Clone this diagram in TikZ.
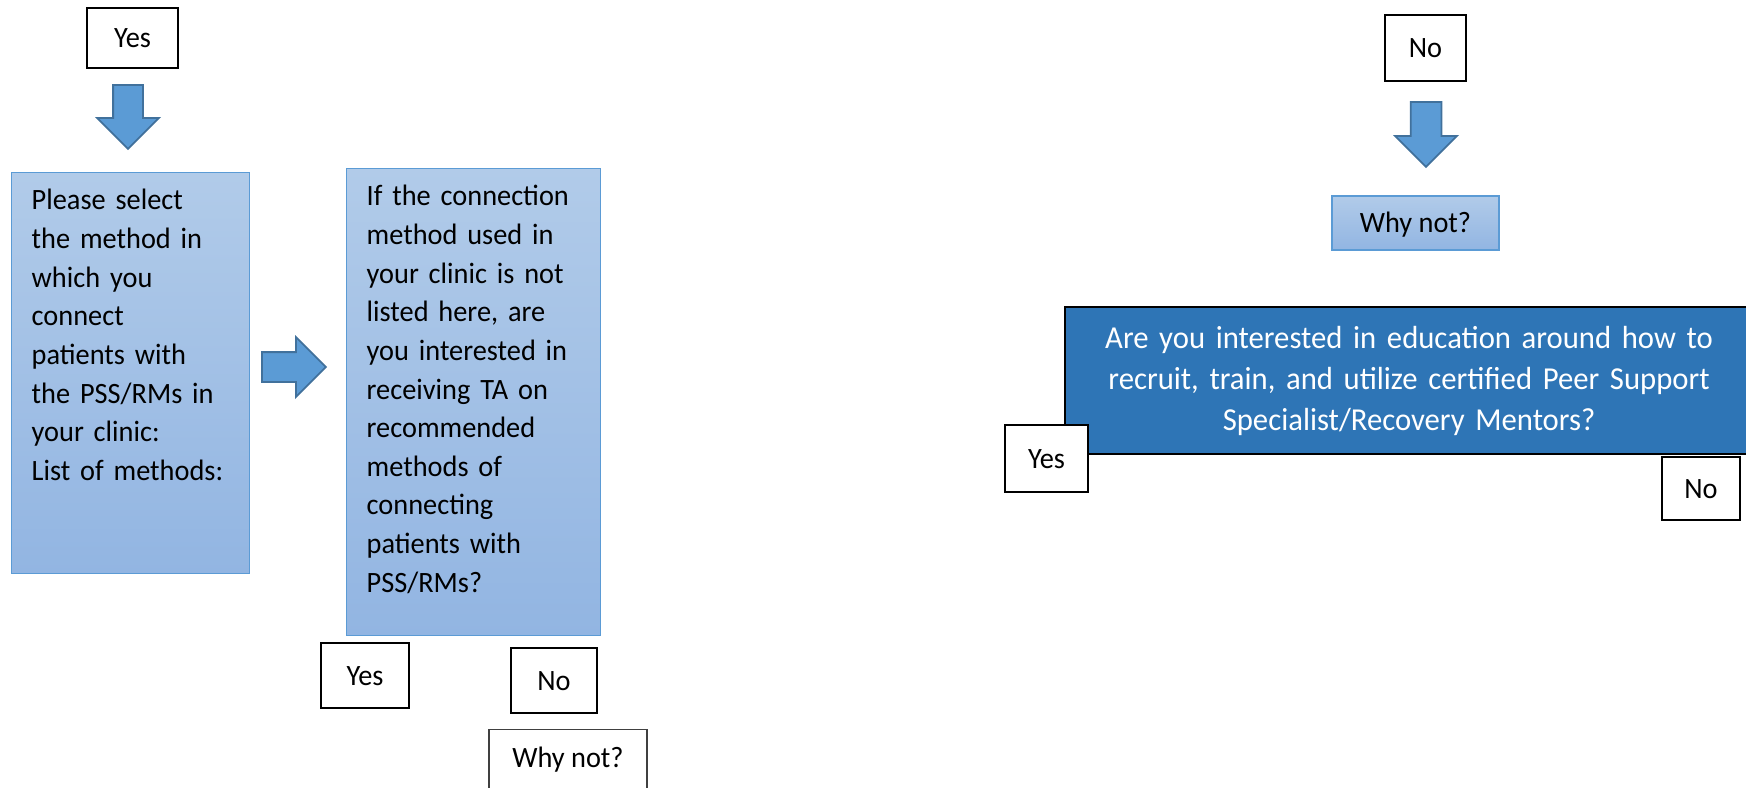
\documentclass[tikz,border=0pt]{standalone}
\usepackage{fontspec}
\setmainfont{Carlito}[FakeStretch=0.96]
\usetikzlibrary{shapes.arrows}
\definecolor{qtop}{HTML}{B1CBE9}
\definecolor{qbot}{HTML}{92B5E2}
\definecolor{qline}{HTML}{5B9BD5}
\definecolor{arfill}{HTML}{5B9BD5}
\definecolor{arline}{HTML}{41719C}
\definecolor{dkblue}{HTML}{2E75B6}

\begin{document}
\begin{tikzpicture}[
  font=\fontsize{8.4pt}{11pt}\selectfont,
  ansbox/.style={
    draw=black, line width=0.6pt, fill=white, inner sep=0pt,
    text height=0.19cm, text depth=0pt
  },
  qbox/.style={
    draw=qline, line width=0.4pt, top color=qtop, bottom color=qbot,
    inner sep=0pt
  },
  blkarrow/.style={
    single arrow, draw=arline, line width=0.5pt, fill=arfill,
    inner xsep=0pt, inner ysep=0.14cm, single arrow head extend=0.16cm,
    minimum height=0.64cm
  },
  darkbox/.style={
    draw=black, line width=0.6pt, fill=dkblue, text=white,
    font=\fontsize{9.1pt}{11.7pt}\selectfont, align=center,
    inner xsep=0.14cm, inner ysep=0pt
  },
]

% Page
\useasboundingbox (0,0) rectangle (17.46,7.87);

% =============================================
% Left: Yes branch
% =============================================
\node[ansbox, minimum width=0.91cm, minimum height=0.60cm] (yesTop) at (1.325,7.49) {Yes};

\node[blkarrow, rotate=-90, anchor=tail] (arrYes) at (1.28,7.03) {};

\node[qbox, anchor=north west, text width=1.98cm, inner xsep=0.2cm,
  align=left, text height=0.37cm, text depth=3.64cm] (selectBox) at (0.11,6.15)
  {Please select\\ the method in\\ which you\\ connect\\ patients with\\
   the PSS/RMs in\\ your clinic:\\ List of methods:};

\node[blkarrow, anchor=tail, single arrow head extend=0.15cm] (arrNext) at (2.61,4.20) {};

\node[qbox, anchor=north west, text width=2.14cm, inner xsep=0.2cm,
  align=left, text height=0.37cm, text depth=4.30cm] (connectBox) at (3.46,6.19)
  {If the connection\\ method used in\\ your clinic is not\\ listed here, are\\
   you interested in\\ receiving TA on\\ recommended\\ methods of\\ connecting\\
   patients with\\ PSS/RMs?};

% Answers under the second box
\node[ansbox, minimum width=0.88cm, minimum height=0.65cm] (yesNext) at (3.65,1.115) {Yes};
\node[ansbox, minimum width=0.86cm, minimum height=0.65cm] (noNext) at (5.54,1.065) {No};

\node[ansbox, draw=black!75, line width=0.4pt, anchor=north, minimum width=1.58cm,
  inner ysep=0.18cm, text height=0.20cm, text depth=0.5cm] (whyNext) at (5.68,0.58) {Why not?};

% =============================================
% Right: No branch
% =============================================
\node[ansbox, minimum width=0.81cm, minimum height=0.66cm] (noTop) at (14.255,7.39) {No};

\node[blkarrow, rotate=-90, anchor=tail, minimum height=0.65cm,
  inner ysep=0.145cm, single arrow head extend=0.155cm] (arrNo) at (14.26,6.86) {};

\node[qbox, minimum width=1.67cm, minimum height=0.54cm,
  text height=0.19cm, text depth=0pt] (whyTop) at (14.155,5.64) {Why not?};

\node[darkbox, anchor=north west, text width=6.60cm,
  text height=0.41cm, text depth=1.06cm] (eduBox) at (10.64,4.81)
  {Are you interested in education around how to\\
   recruit, train, and utilize certified Peer Support\\
   Specialist/Recovery Mentors?};

\node[ansbox, minimum width=0.83cm, minimum height=0.67cm] (yesEdu) at (10.465,3.285) {Yes};
\node[ansbox, minimum width=0.78cm, minimum height=0.63cm] (noEdu) at (17.01,2.985) {No};

\end{tikzpicture}
\end{document}
